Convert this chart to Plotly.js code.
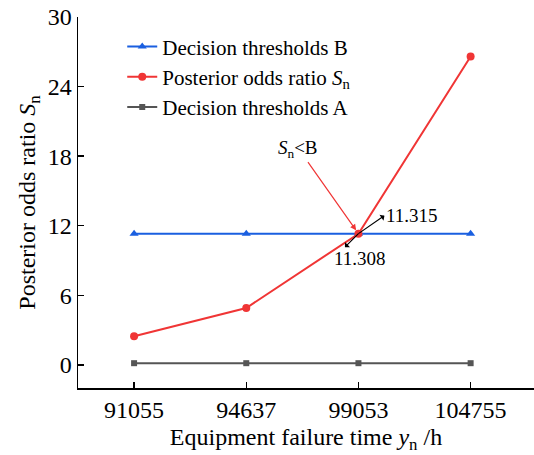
<!DOCTYPE html>
<html>
<head>
<meta charset="utf-8">
<script src="https://cdn.plot.ly/plotly-3.0.1.min.js"></script>
<style>html,body{margin:0;padding:0;background:#fff;}#chart{width:534px;height:455px;}</style>
</head>
<body>
<div id="chart"></div>
<script>
const failureTimes = ['91055', '94637', '99053', '104755'];
const thresholdB = [11.315, 11.315, 11.315, 11.315];
const posteriorOdds = [2.47, 4.9, 11.308, 26.6];
const thresholdA = [0.14, 0.14, 0.14, 0.14];
const yTicks = [0, 6, 12, 18, 24, 30];

const idx = failureTimes.map((_, i) => i);
const font = 'Liberation Serif';

const traces = [
  {x: idx, y: thresholdB, name: 'Decision thresholds B', mode: 'lines+markers',
   line: {color: '#1a5fe0', width: 2}, marker: {symbol: 'triangle-up', size: 8, color: '#1a5fe0'}},
  {x: idx, y: posteriorOdds, name: 'Posterior odds ratio <i>S</i><sub>n</sub>', mode: 'lines+markers',
   line: {color: '#f03535', width: 2}, marker: {symbol: 'circle', size: 8, color: '#f03535'}},
  {x: idx, y: thresholdA, name: 'Decision thresholds A', mode: 'lines+markers',
   line: {color: '#555555', width: 2}, marker: {symbol: 'square', size: 6, color: '#555555'}}
];

const px = 2, py = thresholdB[2];
const layout = {
  width: 534, height: 455,
  margin: {l: 78, r: 0, t: 17, b: 67},
  paper_bgcolor: '#fff', plot_bgcolor: '#fff',
  font: {family: font, color: '#000'},
  showlegend: true,
  legend: {x: 0.097, y: 0.975, xanchor: 'left', yanchor: 'top', bgcolor: 'rgba(0,0,0,0)',
           font: {family: font, size: 21, color: '#000'}, tracegroupgap: 0},
  xaxis: {
    range: [-0.5, 3.565], tickmode: 'array', tickvals: idx, ticktext: failureTimes,
    showline: true, linecolor: '#000', linewidth: 1.5, ticks: 'inside', ticklen: 6, tickwidth: 1.5, tickcolor: '#000',
    showgrid: false, zeroline: false, tickfont: {family: font, size: 24},
    title: {text: 'Equipment failure time <i>y</i><sub>n</sub> /h', font: {family: font, size: 24}, standoff: 6}
  },
  yaxis: {
    range: [-2, 30], tickmode: 'array', tickvals: yTicks,
    showline: true, linecolor: '#000', linewidth: 1.5, ticks: 'inside', ticklen: 6, tickwidth: 1.5, tickcolor: '#000',
    showgrid: false, zeroline: false, tickfont: {family: font, size: 24},
    title: {text: 'Posterior odds ratio <i>S</i><sub>n</sub>', font: {family: font, size: 24}, standoff: 5}
  },
  annotations: [
    {x: px, y: py, xref: 'x', yref: 'y', text: '<i>S</i><sub>n</sub>&lt;B', showarrow: true, ax: -60, ay: -85,
     arrowcolor: '#f03535', arrowwidth: 1.2, arrowhead: 2, arrowsize: 1, standoff: 4,
     font: {family: font, size: 19, color: '#000'}},
    {x: px, y: py, xref: 'x', yref: 'y', text: '11.315', showarrow: true, ax: 26, ay: -18,
     xanchor: 'left', yanchor: 'middle',
     arrowcolor: '#000', arrowwidth: 1.2, arrowhead: 2, arrowsize: 1, arrowside: 'start', standoff: 0, startstandoff: 0,
     font: {family: font, size: 19, color: '#000'}},
    {x: px, y: py, xref: 'x', yref: 'y', text: '', showarrow: true, ax: -15, ay: 15,
     arrowcolor: '#000', arrowwidth: 1.2, arrowhead: 2, arrowsize: 1, arrowside: 'start', standoff: 0, startstandoff: 0},
    {x: px, y: py, xref: 'x', yref: 'y', text: '11.308', showarrow: false, xshift: 2, yshift: -25,
     font: {family: font, size: 19, color: '#000'}}
  ]
};

Plotly.newPlot('chart', traces, layout, {displayModeBar: false, staticPlot: true});
</script>
</body>
</html>
